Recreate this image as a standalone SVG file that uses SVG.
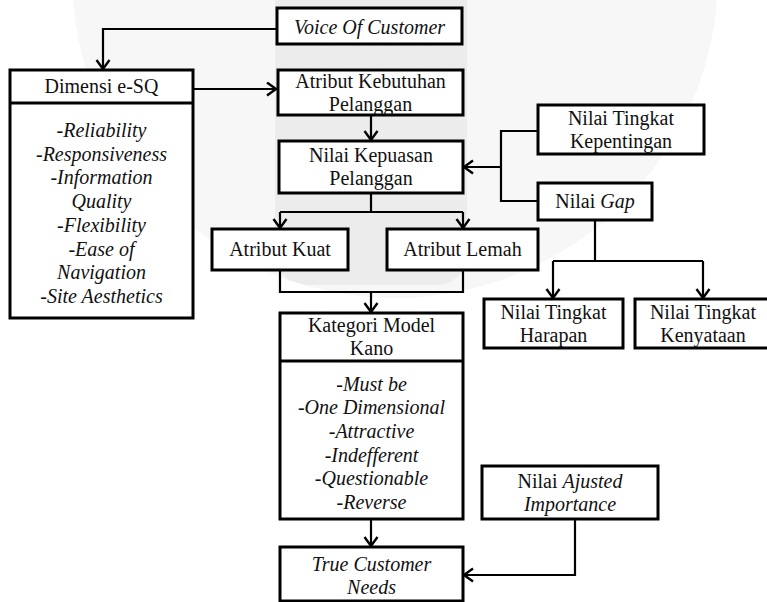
<svg xmlns="http://www.w3.org/2000/svg" width="767" height="602" viewBox="0 0 767 602">
<style>
.box{fill:#fff;stroke:#000;stroke-width:3}
.div{stroke:#000;stroke-width:3}
.c{fill:none;stroke:#000;stroke-width:2.2}
.t{font-family:"Liberation Serif","Times New Roman",serif;font-size:20px;fill:#111;text-anchor:middle}
.i{font-style:italic}
.n{font-style:normal}
</style>
<defs>
<marker id="ah" markerUnits="userSpaceOnUse" markerWidth="16" markerHeight="16" refX="10" refY="7.5" orient="auto">
<path d="M1,1 L10,7.5 L1,14" fill="none" stroke="#000" stroke-width="2.4"/>
</marker>
<clipPath id="circ"><circle cx="395" cy="-25" r="323"/></clipPath>
</defs>
<g id="watermark">
<circle cx="395" cy="-25" r="323" fill="#f7f7f7"/>
<rect x="275" y="-40" width="192" height="325" rx="30" fill="#ececec" clip-path="url(#circ)"/>
</g>
<g id="connectors">
<path class="c" d="M277 29 H103 V69" marker-end="url(#ah)"/>
<path class="c" d="M193 89 H276" marker-end="url(#ah)"/>
<path class="c" d="M371 115 V140" marker-end="url(#ah)"/>
<path class="c" d="M371 193 V212"/>
<path class="c" d="M280 212 H463"/>
<path class="c" d="M280 212 V228" marker-end="url(#ah)"/>
<path class="c" d="M463 212 V228" marker-end="url(#ah)"/>
<path class="c" d="M280 270 V292 H463 V270"/>
<path class="c" d="M371 292 V312" marker-end="url(#ah)"/>
<path class="c" d="M371 519 V546" marker-end="url(#ah)"/>
<path class="c" d="M538 131 H501 V201 H538"/>
<path class="c" d="M501 167 H464" marker-end="url(#ah)"/>
<path class="c" d="M595 220 V261"/>
<path class="c" d="M553 261 H703"/>
<path class="c" d="M553 261 V298" marker-end="url(#ah)"/>
<path class="c" d="M703 261 V298" marker-end="url(#ah)"/>
<path class="c" d="M575 519 V575 H464" marker-end="url(#ah)"/>
</g>
<g id="voice">
<rect class="box" x="277" y="8" width="185" height="36"/>
<text class="t i" x="369.5" y="33.5">Voice Of Customer</text>
</g>
<g id="dimensi">
<rect class="box" x="10" y="70" width="183" height="248"/>
<line class="div" x1="10" y1="103" x2="193" y2="103"/>
<text class="t" x="101.5" y="93">Dimensi e-SQ</text>
<text class="t i" x="101.5" y="137"><tspan class="n">-</tspan>Reliability</text>
<text class="t i" x="101.5" y="160.7"><tspan class="n">-</tspan>Responsiveness</text>
<text class="t i" x="101.5" y="184.4"><tspan class="n">-</tspan>Information</text>
<text class="t i" x="101.5" y="208.1">Quality</text>
<text class="t i" x="101.5" y="231.8"><tspan class="n">-</tspan>Flexibility</text>
<text class="t i" x="101.5" y="255.5"><tspan class="n">-</tspan>Ease of</text>
<text class="t i" x="101.5" y="279.2">Navigation</text>
<text class="t i" x="101.5" y="302.9"><tspan class="n">-</tspan>Site Aesthetics</text>
</g>
<g id="atribut-kebutuhan">
<rect class="box" x="278" y="70" width="185" height="45"/>
<text class="t" x="370.5" y="88">Atribut Kebutuhan</text>
<text class="t" x="370.5" y="111">Pelanggan</text>
</g>
<g id="nilai-kepuasan">
<rect class="box" x="279" y="141" width="184" height="52"/>
<text class="t" x="371" y="162">Nilai Kepuasan</text>
<text class="t" x="371" y="185">Pelanggan</text>
</g>
<g id="atribut-kuat">
<rect class="box" x="212" y="229" width="136" height="41"/>
<text class="t" x="280" y="256">Atribut Kuat</text>
</g>
<g id="atribut-lemah">
<rect class="box" x="387" y="229" width="151" height="41"/>
<text class="t" x="462.5" y="256">Atribut Lemah</text>
</g>
<g id="kategori">
<rect class="box" x="280" y="313" width="183" height="206"/>
<line class="div" x1="280" y1="361" x2="463" y2="361"/>
<text class="t" x="371.5" y="332">Kategori Model</text>
<text class="t" x="371.5" y="355">Kano</text>
<text class="t i" x="371.5" y="390.5"><tspan class="n">-</tspan>Must be</text>
<text class="t i" x="371.5" y="414.2"><tspan class="n">-</tspan>One Dimensional</text>
<text class="t i" x="371.5" y="437.9"><tspan class="n">-</tspan>Attractive</text>
<text class="t i" x="371.5" y="461.6"><tspan class="n">-</tspan>Indefferent</text>
<text class="t i" x="371.5" y="485.3"><tspan class="n">-</tspan>Questionable</text>
<text class="t i" x="371.5" y="509"><tspan class="n">-</tspan>Reverse</text>
</g>
<g id="true-customer">
<rect class="box" x="280" y="547" width="183" height="54"/>
<text class="t i" x="371.5" y="571">True Customer</text>
<text class="t i" x="371.5" y="594">Needs</text>
</g>
<g id="kepentingan">
<rect class="box" x="538" y="105" width="166" height="49"/>
<text class="t" x="621" y="124.5">Nilai Tingkat</text>
<text class="t" x="621" y="147.5">Kepentingan</text>
</g>
<g id="gap">
<rect class="box" x="538" y="183" width="114" height="37"/>
<text class="t" x="595" y="208">Nilai <tspan class="i">Gap</tspan></text>
</g>
<g id="harapan">
<rect class="box" x="484" y="299" width="139" height="49"/>
<text class="t" x="553.5" y="318.5">Nilai Tingkat</text>
<text class="t" x="553.5" y="341.5">Harapan</text>
</g>
<g id="kenyataan">
<rect class="box" x="635" y="299" width="136" height="49"/>
<text class="t" x="703" y="318.5">Nilai Tingkat</text>
<text class="t" x="703" y="341.5">Kenyataan</text>
</g>
<g id="ajusted">
<rect class="box" x="482" y="466" width="176" height="53"/>
<text class="t" x="570" y="487.5">Nilai <tspan class="i">Ajusted</tspan></text>
<text class="t i" x="570" y="510.5">Importance</text>
</g>
</svg>
